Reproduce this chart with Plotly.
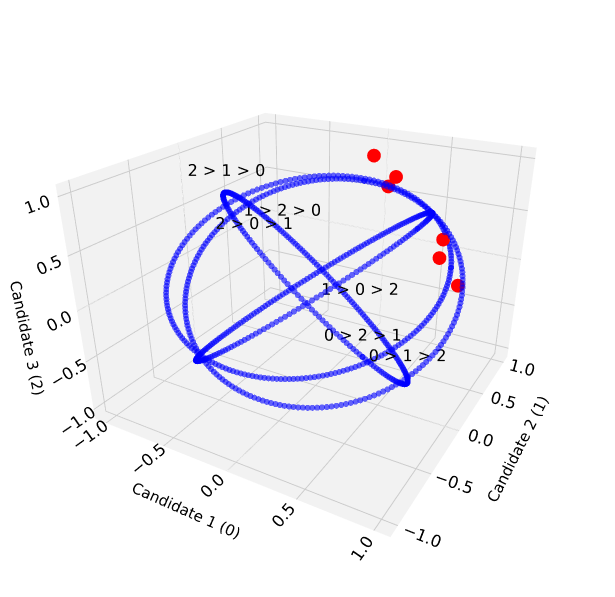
import numpy as np
import plotly.graph_objects as go

# tie circles on unit sphere: defined by two orthonormal basis vectors each
circle_bases = [
    ([1, 1, 0], [0, 0, 1]),      # x = y
    ([0, 1, 1], [1, 0, 0]),      # y = z
    ([1, 0, 1], [0, 1, 0]),      # x = z
    ([1, -1, 0], [1, 1, -2]),    # x + y + z = 0
]
n_pts = 200

labels = ["0 > 1 > 2", "0 > 2 > 1", "1 > 0 > 2", "1 > 2 > 0", "2 > 0 > 1", "2 > 1 > 0"]
label_pts = [(1, 0, -1), (1, -1, 0), (0, 1, -1), (-1, 1, 0), (0, -1, 1), (-1, 0, 1)]

red_x = [0.05, 0.25, 0.15, 0.65, 0.60, 0.85]
red_y = [0.75, 0.70, 0.80, 0.65, 0.75, 0.45]
red_z = [0.95, 0.80, 0.65, 0.30, 0.05, 0.00]

fig = go.Figure()
t = np.linspace(0, 2 * np.pi, n_pts)
for u, v in circle_bases:
    u = np.array(u, float); u /= np.linalg.norm(u)
    v = np.array(v, float); v /= np.linalg.norm(v)
    P = np.outer(np.cos(t), u) + np.outer(np.sin(t), v)
    fig.add_trace(go.Scatter3d(x=P[:, 0], y=P[:, 1], z=P[:, 2], mode="markers",
                               marker=dict(size=3.5, color="blue", opacity=0.6), showlegend=False))

L = np.array(label_pts, float) / np.sqrt(2)
fig.add_trace(go.Scatter3d(x=L[:, 0], y=L[:, 1], z=L[:, 2], mode="text", text=labels,
                           textfont=dict(size=16, color="black"), showlegend=False))
fig.add_trace(go.Scatter3d(x=red_x, y=red_y, z=red_z, mode="markers",
                           marker=dict(size=8, color="red"), showlegend=False))

ax = dict(range=[-1.1, 1.1], tickvals=[-1, -0.5, 0, 0.5, 1],
          ticktext=["−1.0", "−0.5", "0.0", "0.5", "1.0"], backgroundcolor="#f2f2f2",
          gridcolor="#cccccc", showbackground=True, tickfont=dict(size=14))
fig.update_layout(
    width=615, height=597, margin=dict(l=0, r=0, t=0, b=0),
    paper_bgcolor="white", font=dict(family="DejaVu Sans", color="black"),
    scene=dict(
        xaxis=dict(ax, title=dict(text="Candidate 1 (0)", font=dict(size=15))),
        yaxis=dict(ax, title=dict(text="Candidate 2 (1)", font=dict(size=15))),
        zaxis=dict(ax, title=dict(text="Candidate 3 (2)", font=dict(size=15))),
        aspectmode="manual", aspectratio=dict(x=1, y=1, z=0.75),
        camera=dict(eye=dict(x=1.0, y=-1.75, z=0.95), center=dict(x=0, y=0, z=-0.08)),
    ),
)
fig.write_html("out.html")
